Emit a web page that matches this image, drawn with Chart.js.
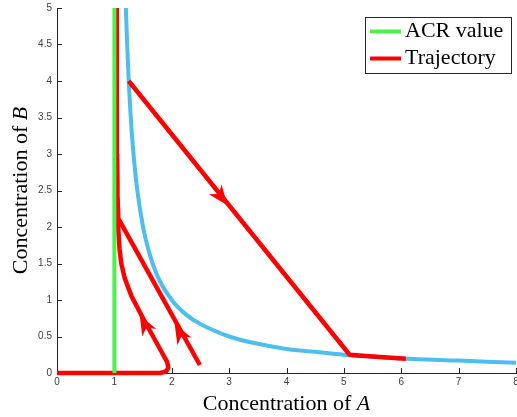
<!DOCTYPE html>
<html>
<head>
<meta charset="utf-8">
<script src="https://cdn.jsdelivr.net/npm/chart.js@4.4.1/dist/chart.umd.min.js"></script>
<style>
  html, body { margin: 0; padding: 0; background: #fff; }
  #wrap { width: 517px; height: 417px; position: relative; }
</style>
</head>
<body>
<div id="wrap"><canvas id="acrChart"></canvas></div>
<script>
// ACR value, vertical line at A = 1
const acrA = [1, 1];
const acrB = [0, 5];

// blue curve of steady states
const curveA = [1.2, 1.22, 1.25, 1.3, 1.35, 1.4, 1.5, 1.6, 1.75, 2, 2.25, 2.5, 3, 3.5, 4, 4.5, 5, 6, 7, 8];
const curveB = [5, 4.55, 4, 3.33, 2.86, 2.5, 2, 1.67, 1.33, 1, 0.8, 0.67, 0.5, 0.4, 0.33, 0.29, 0.25, 0.2, 0.17, 0.14];

// trajectories (red)
const traj1A = [1.25, 5.10, 5.5, 6.08];
const traj1B = [4.0, 0.25, 0.225, 0.196];

const traj2A = [2.49, 1.08, 1.065, 1.055, 1.05, 1.045, 1.04, 1.04];
const traj2B = [0.11, 2.10, 2.2, 2.4, 2.6, 3.0, 4.0, 5.0];

const traj3A = [0, 1.8, 1.9, 1.94, 1.92, 1.85, 1.5, 1.3, 1.18, 1.12, 1.09, 1.07, 1.06, 1.05, 1.045, 1.04, 1.04];
const traj3B = [0, 0, 0.02, 0.07, 0.15, 0.25, 0.75, 1.05, 1.3, 1.5, 1.7, 1.95, 2.2, 2.5, 3.0, 4.0, 5.0];

// arrow heads: tip, and a point just behind it on the same trajectory
const arrowTipA = [2.96, 1.45, 2.06];
const arrowTipB = [2.31, 0.78, 0.66];
const arrowTailA = [2.5, 1.7, 2.3];
const arrowTailB = [2.78, 0.42, 0.32];

const xTicks = [0, 1, 2, 3, 4, 5, 6, 7, 8];
const yTicks = [0, 0.5, 1, 1.5, 2, 2.5, 3, 3.5, 4, 4.5, 5];

const green = 'rgb(77,240,77)';
const red = '#ff0000';
const blue = '#4DBEEE';
const axisCol = '#262626';
const serif = '"Liberation Serif", "Times New Roman", serif';

function pts(xs, ys) {
    return xs.map((v, i) => ({x: v, y: ys[i]}));
}

function drawArrow(ctx, tx, ty, bx, by) {
    const ang = Math.atan2(ty - by, tx - bx);
    ctx.save();
    ctx.translate(tx, ty);
    ctx.rotate(ang);
    ctx.beginPath();
    ctx.moveTo(1, 0);
    ctx.lineTo(-19, -8);
    ctx.lineTo(-13, 0);
    ctx.lineTo(-19, 8);
    ctx.closePath();
    ctx.fill();
    ctx.restore();
}

const decorPlugin = {
    id: 'decor',
    beforeDatasetsDraw(chart) {
        // inward tick marks
        const {ctx, chartArea: a, scales: {x, y}} = chart;
        ctx.save();
        ctx.strokeStyle = axisCol;
        ctx.lineWidth = 1;
        ctx.beginPath();
        xTicks.forEach(v => {
            const px = Math.round(x.getPixelForValue(v)) + 0.5;
            ctx.moveTo(px, a.bottom);
            ctx.lineTo(px, a.bottom - 5);
        });
        yTicks.forEach(v => {
            const py = Math.round(y.getPixelForValue(v)) + 0.5;
            ctx.moveTo(a.left, py);
            ctx.lineTo(a.left + 5, py);
        });
        ctx.stroke();
        ctx.restore();
    },
    afterDraw(chart) {
        const {ctx, chartArea: a, scales: {x, y}} = chart;

        // arrows on the trajectories
        ctx.save();
        ctx.fillStyle = red;
        arrowTipA.forEach((v, i) => {
            drawArrow(ctx,
                x.getPixelForValue(v), y.getPixelForValue(arrowTipB[i]),
                x.getPixelForValue(arrowTailA[i]), y.getPixelForValue(arrowTailB[i]));
        });
        ctx.restore();

        // axis titles with italic variable
        ctx.save();
        ctx.fillStyle = '#000';
        ctx.textBaseline = 'alphabetic';
        const plain = 'Concentration of ';
        ctx.font = '22px ' + serif;
        const w1 = ctx.measureText(plain).width;
        ctx.font = 'italic 22px ' + serif;
        const w2 = ctx.measureText('A').width;
        let sx = (a.left + a.right) / 2 - (w1 + w2) / 2;
        ctx.font = '22px ' + serif;
        ctx.fillText(plain, sx, 410);
        ctx.font = 'italic 22px ' + serif;
        ctx.fillText('A', sx + w1, 410);

        ctx.translate(27, (a.top + a.bottom) / 2);
        ctx.rotate(-Math.PI / 2);
        ctx.font = 'italic 22px ' + serif;
        const w3 = ctx.measureText('B').width;
        sx = -(w1 + w3) / 2;
        ctx.font = '22px ' + serif;
        ctx.fillText(plain, sx, 0);
        ctx.font = 'italic 22px ' + serif;
        ctx.fillText('B', sx + w1, 0);
        ctx.restore();

        // legend box
        ctx.save();
        ctx.fillStyle = '#fff';
        ctx.fillRect(365.5, 17.5, 146, 56);
        ctx.strokeStyle = axisCol;
        ctx.lineWidth = 1;
        ctx.strokeRect(365.5, 17.5, 146, 56);
        const entries = [['ACR value', green, 31.5], ['Trajectory', red, 58.5]];
        entries.forEach(([txt, col, ly]) => {
            ctx.strokeStyle = col;
            ctx.lineWidth = 4;
            ctx.beginPath();
            ctx.moveTo(370, ly);
            ctx.lineTo(401, ly);
            ctx.stroke();
            ctx.fillStyle = '#000';
            ctx.font = '22px ' + serif;
            ctx.textBaseline = 'middle';
            ctx.fillText(txt, 405, ly);
        });
        ctx.restore();
    }
};

let ctx = document.getElementById('acrChart').getContext('2d');

let acrChart = new Chart(ctx, {
    type: 'line',
    data: {
        datasets: [{
            label: 'ACR value',
            data: pts(acrA, acrB),
            borderColor: green,
            backgroundColor: green,
            borderWidth: 4
        },
        {
            label: 'Trajectory',
            data: pts(traj1A, traj1B),
            borderColor: red,
            backgroundColor: red,
            borderWidth: 4.5
        },
        {
            label: 'Trajectory',
            data: pts(traj2A, traj2B),
            borderColor: red,
            backgroundColor: red,
            borderWidth: 4.5
        },
        {
            label: 'Trajectory',
            data: pts(traj3A, traj3B),
            borderColor: red,
            backgroundColor: red,
            borderWidth: 4.5
        },
        {
            label: 'Steady states',
            data: pts(curveA, curveB),
            borderColor: blue,
            backgroundColor: blue,
            borderWidth: 4,
            cubicInterpolationMode: 'monotone'
        }]
    },
    options: {
        responsive: true,
        maintainAspectRatio: false,
        animation: false,
        clip: 5,
        elements: {
            point: { radius: 0, hoverRadius: 0 },
            line: { tension: 0, borderCapStyle: 'butt', borderJoinStyle: 'round' }
        },
        layout: { padding: { top: 8, right: 1, left: 0, bottom: 0 } },
        plugins: {
            legend: { display: false },
            tooltip: { enabled: false }
        },
        scales: {
            x: {
                type: 'linear',
                min: 0,
                max: 8,
                afterBuildTicks: s => { s.ticks = xTicks.map(v => ({value: v})); },
                afterFit: s => { s.height = 44; s.paddingLeft = 0; s.paddingRight = 0; },
                ticks: {
                    padding: 3,
                    color: '#404040',
                    font: { family: '"Liberation Sans", Arial, sans-serif', size: 10 }
                },
                grid: { drawOnChartArea: false, drawTicks: false },
                border: { display: true, color: axisCol, width: 1 }
            },
            y: {
                type: 'linear',
                min: 0,
                max: 5,
                afterBuildTicks: s => { s.ticks = yTicks.map(v => ({value: v})); },
                afterFit: s => { s.width = 57; s.paddingTop = 0; s.paddingBottom = 0; },
                ticks: {
                    padding: 5,
                    color: '#404040',
                    font: { family: '"Liberation Sans", Arial, sans-serif', size: 10 },
                    callback: v => String(v)
                },
                grid: { drawOnChartArea: false, drawTicks: false },
                border: { display: true, color: axisCol, width: 1 }
            }
        }
    },
    plugins: [decorPlugin]
});
</script>
</body>
</html>
